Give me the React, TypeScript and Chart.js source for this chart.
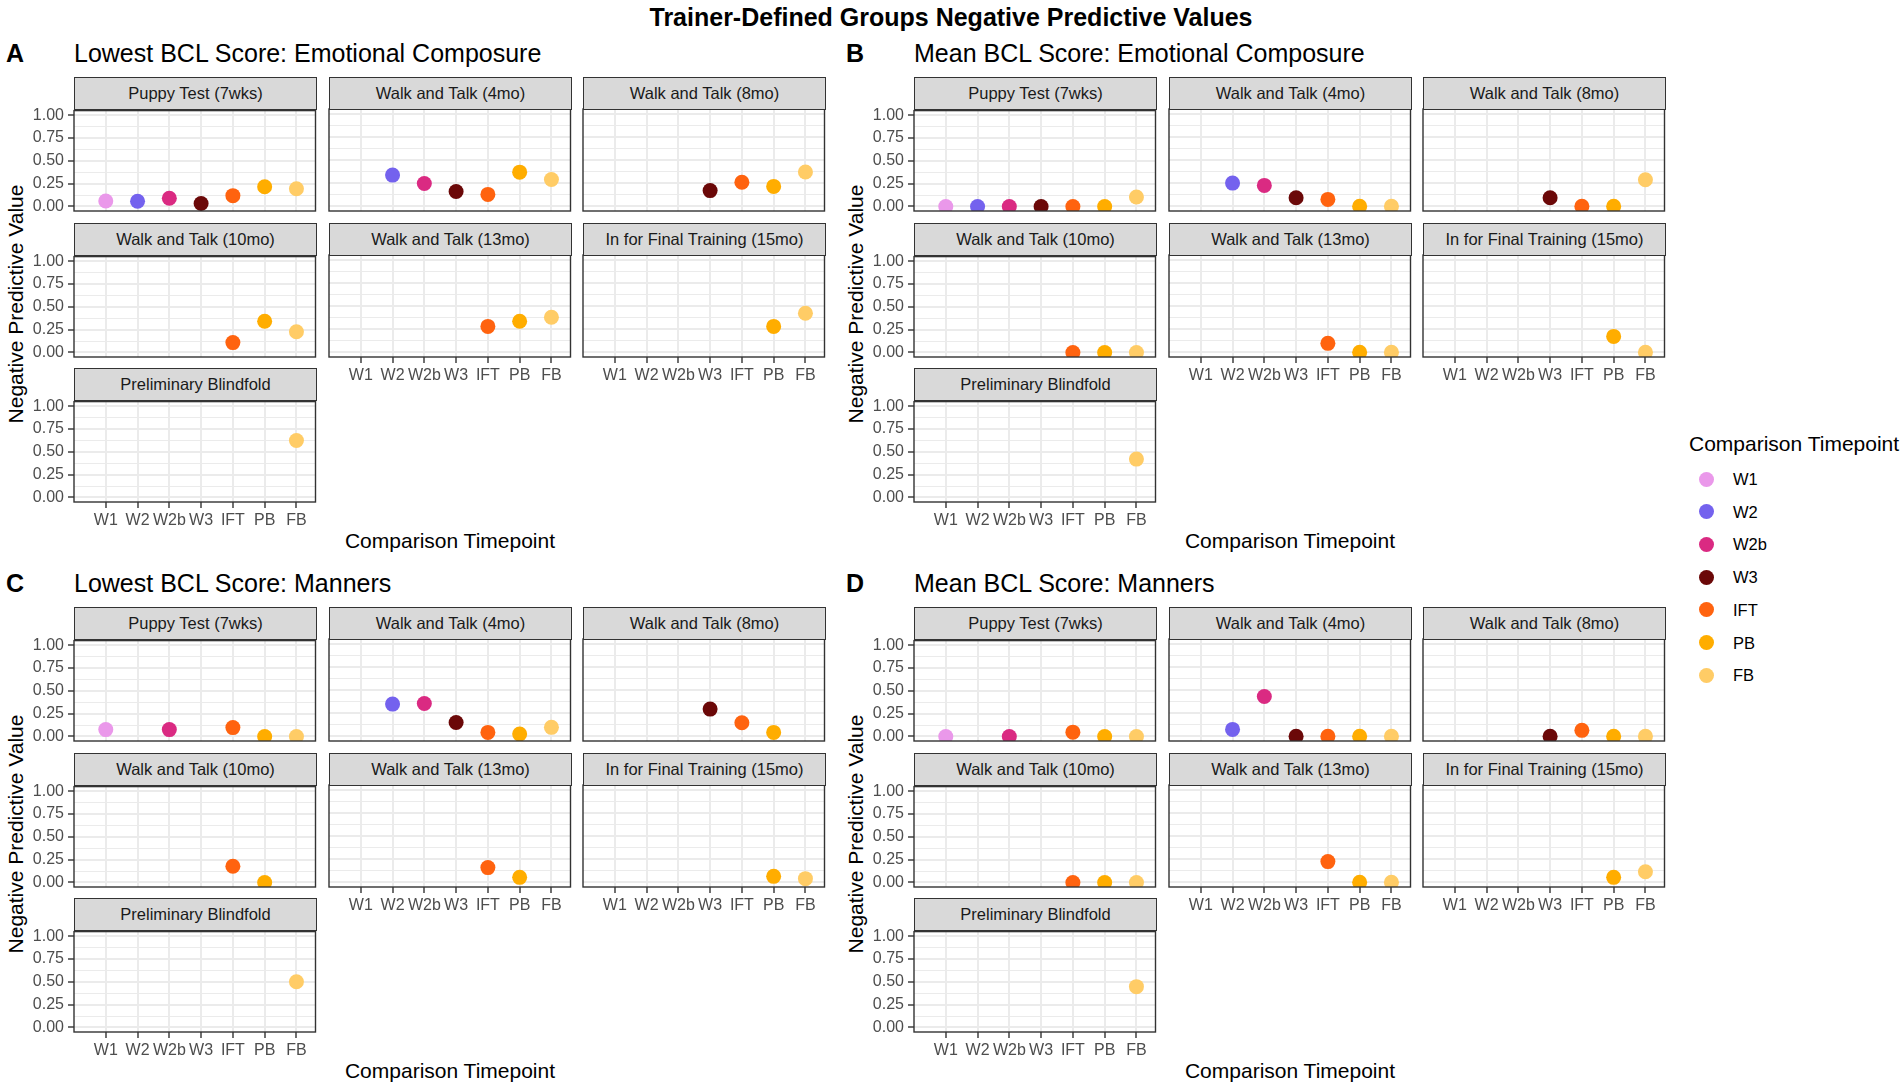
import React, { useEffect, useRef } from 'react';
import { Chart, registerables } from 'chart.js';

Chart.register(...registerables);

const FONT = '"Liberation Sans", Arial, Helvetica, sans-serif';

const categories = ['W1', 'W2', 'W2b', 'W3', 'IFT', 'PB', 'FB'];
const seriesColors = ['#EA98EA', '#7462EE', '#DA2A82', '#6B0808', '#FF630F', '#FFAD00', '#FFCC66'];
const facetNames = [
  'Puppy Test (7wks)',
  'Walk and Talk (4mo)',
  'Walk and Talk (8mo)',
  'Walk and Talk (10mo)',
  'Walk and Talk (13mo)',
  'In for Final Training (15mo)',
  'Preliminary Blindfold',
];
const yMajorTicks = [0, 0.25, 0.5, 0.75, 1];
const yMajorLabels = ['0.00', '0.25', '0.50', '0.75', '1.00'];
const yMinorTicks = [0.125, 0.375, 0.625, 0.875];

const N = null;
// rows = facets (same order as facetNames), columns = categories
const lowestEmotional = [
  [0.06, 0.057, 0.09, 0.032, 0.118, 0.215, 0.194],
  [N, 0.337, 0.247, 0.161, 0.129, 0.369, 0.29],
  [N, N, N, 0.17, 0.26, 0.215, 0.37],
  [N, N, N, N, 0.108, 0.342, 0.227],
  [N, N, N, N, 0.28, 0.336, 0.379],
  [N, N, N, N, N, 0.28, 0.422],
  [N, N, N, N, N, N, 0.624],
];
const meanEmotional = [
  [0, 0, 0, 0, 0, 0, 0.104],
  [N, 0.251, 0.226, 0.093, 0.075, 0, 0],
  [N, N, N, 0.093, 0, 0, 0.287],
  [N, N, N, N, 0, 0, 0],
  [N, N, N, N, 0.097, 0, 0],
  [N, N, N, N, N, 0.172, 0],
  [N, N, N, N, N, N, 0.42],
];
const lowestManners = [
  [0.075, N, 0.075, N, 0.097, 0, 0],
  [N, 0.348, 0.355, 0.15, 0.043, 0.025, 0.097],
  [N, N, N, 0.294, 0.147, 0.043, N],
  [N, N, N, N, 0.177, 0, N],
  [N, N, N, N, 0.159, 0.054, N],
  [N, N, N, N, N, 0.065, 0.04],
  [N, N, N, N, N, N, 0.5],
];
const meanManners = [
  [0, N, 0, N, 0.047, 0, 0],
  [N, 0.075, 0.43, 0, 0, 0, 0],
  [N, N, N, 0, 0.065, 0, 0],
  [N, N, N, N, 0, 0, 0],
  [N, N, N, N, 0.224, 0, 0],
  [N, N, N, N, N, 0.054, 0.115],
  [N, N, N, N, N, N, 0.447],
];

const panelTitles = [
  'Lowest BCL Score: Emotional Composure',
  'Mean BCL Score: Emotional Composure',
  'Lowest BCL Score: Manners',
  'Mean BCL Score: Manners',
];
const panelLetters = ['A', 'B', 'C', 'D'];
const panelData = [lowestEmotional, meanEmotional, lowestManners, meanManners];

// layout (px)
const PANEL_OFFSETS = [
  [0, 0],
  [840, 0],
  [0, 530],
  [840, 530],
];
const COL_LEFT = [74, 329, 583];
const ROW_TOP = [109, 255, 400];
const PLOT_W = 243;
const PLOT_H = 102;
const STRIP_H = 32;
const AX_W = 70;
const AX_H = 36;
const PAD_T = 12;
const PAD_R = 6;

const borderPlugin = {
  id: 'panelBorder',
  afterDraw(chart: any) {
    const { ctx, chartArea } = chart;
    ctx.save();
    ctx.strokeStyle = '#333333';
    ctx.lineWidth = 1.4;
    ctx.strokeRect(chartArea.left, chartArea.top, chartArea.right - chartArea.left, chartArea.bottom - chartArea.top);
    ctx.restore();
  },
};

function Facet({ values, left, top, showX, showY }: { values: (number | null)[]; left: number; top: number; showX: boolean; showY: boolean }) {
  const ref = useRef<HTMLCanvasElement>(null);
  useEffect(() => {
    const canvas = ref.current;
    if (!canvas) return;
    const datasets = categories.map((c, i) => ({
      label: c,
      data: values[i] == null ? [] : [{ x: i, y: values[i] as number }],
      backgroundColor: seriesColors[i],
      borderWidth: 0,
      pointRadius: 7.5,
      pointHoverRadius: 7.5,
      clip: 0,
    }));
    const isMajor = (v: number) => yMajorTicks.indexOf(v) >= 0;
    const chart = new Chart(canvas, {
      type: 'scatter',
      data: { datasets },
      options: {
        animation: false,
        responsive: false,
        maintainAspectRatio: false,
        events: [],
        layout: { padding: { top: PAD_T, right: PAD_R, left: 0, bottom: 0 } },
        plugins: { legend: { display: false }, tooltip: { enabled: false } },
        scales: {
          x: {
            type: 'linear',
            min: -1,
            max: 6.6,
            afterFit: (s: any) => {
              s.height = AX_H;
            },
            afterBuildTicks: (s: any) => {
              s.ticks = categories.map((_, i) => ({ value: i }));
            },
            ticks: {
              display: showX,
              autoSkip: false,
              maxRotation: 0,
              minRotation: 0,
              padding: 3,
              color: '#4D4D4D',
              font: { family: FONT, size: 16 },
              callback: (v: any) => categories[v] ?? '',
            },
            grid: {
              color: '#EBEBEB',
              lineWidth: 2,
              drawTicks: showX,
              tickLength: 6,
              tickColor: '#333333',
              tickWidth: 1.4,
            },
            border: { display: false },
          },
          y: {
            type: 'linear',
            min: -0.05,
            max: 1.05,
            afterFit: (s: any) => {
              s.width = AX_W;
            },
            afterBuildTicks: (s: any) => {
              s.ticks = [...yMajorTicks, ...yMinorTicks].sort((a, b) => a - b).map((v) => ({ value: v }));
            },
            ticks: {
              display: showY,
              autoSkip: false,
              padding: 4,
              color: '#4D4D4D',
              font: { family: FONT, size: 16 },
              callback: (v: any) => {
                const k = yMajorTicks.indexOf(v);
                return k >= 0 ? yMajorLabels[k] : '';
              },
            },
            grid: {
              color: '#EBEBEB',
              lineWidth: (ctx: any) => (isMajor(ctx.tick.value) ? 2 : 1),
              drawTicks: showY,
              tickLength: 6,
              tickColor: (ctx: any) => (isMajor(ctx.tick.value) ? '#333333' : 'rgba(0,0,0,0)'),
              tickWidth: 1.4,
            },
            border: { display: false },
          },
        },
      } as any,
      plugins: [borderPlugin],
    });
    return () => chart.destroy();
  }, [values, showX, showY]);
  const w = AX_W + PLOT_W + PAD_R;
  const h = PAD_T + PLOT_H + AX_H;
  return (
    <canvas
      ref={ref}
      width={w}
      height={h}
      style={{ position: 'absolute', left: left - AX_W, top: top - PAD_T, width: w, height: h, display: 'block' }}
    />
  );
}

const textBase: React.CSSProperties = {
  position: 'absolute',
  whiteSpace: 'nowrap',
  lineHeight: 1,
  fontFamily: FONT,
};

function Panel({ index }: { index: number }) {
  const [ox, oy] = PANEL_OFFSETS[index];
  const data = panelData[index];
  const items: React.ReactNode[] = [];
  facetNames.forEach((name, f) => {
    const row = Math.floor(f / 3);
    const col = f % 3;
    const left = ox + COL_LEFT[col];
    const top = oy + ROW_TOP[row];
    const showY = col === 0;
    const showX = f === 6 || f === 4 || f === 5;
    items.push(<Facet key={'c' + f} values={data[f]} left={left} top={top} showX={showX} showY={showY} />);
    items.push(
      <div
        key={'s' + f}
        style={{
          position: 'absolute',
          left,
          top: top - STRIP_H,
          width: PLOT_W,
          height: STRIP_H + 0.7,
          boxSizing: 'border-box',
          background: '#D9D9D9',
          border: '1.4px solid #333333',
          display: 'flex',
          alignItems: 'center',
          justifyContent: 'center',
          fontFamily: FONT,
          fontSize: 16.5,
          color: '#1A1A1A',
          whiteSpace: 'nowrap',
        }}
      >
        {name}
      </div>
    );
  });
  return (
    <>
      <div style={{ ...textBase, left: ox + 6, top: oy + 53, transform: 'translateY(-50%)', fontSize: 25, fontWeight: 'bold', color: '#000' }}>
        {panelLetters[index]}
      </div>
      <div style={{ ...textBase, left: ox + 74, top: oy + 53, transform: 'translateY(-50%)', fontSize: 25, color: '#000' }}>
        {panelTitles[index]}
      </div>
      <div
        style={{
          ...textBase,
          left: ox + 15,
          top: oy + 304,
          transform: 'translate(-50%, -50%) rotate(-90deg)',
          fontSize: 21,
          color: '#000',
        }}
      >
        Negative Predictive Value
      </div>
      <div style={{ ...textBase, left: ox + 450, top: oy + 540, transform: 'translate(-50%, -50%)', fontSize: 21, color: '#000' }}>
        Comparison Timepoint
      </div>
      {items}
    </>
  );
}

export default function App() {
  return (
    <div style={{ position: 'absolute', left: 0, top: 0, width: 1902, height: 1087, background: '#fff', overflow: 'hidden' }}>
      <div
        style={{
          ...textBase,
          left: 951,
          top: 17,
          transform: 'translate(-50%, -50%)',
          fontSize: 25,
          fontWeight: 'bold',
          color: '#000',
        }}
      >
        Trainer-Defined Groups Negative Predictive Values
      </div>
      {[0, 1, 2, 3].map((i) => (
        <Panel key={i} index={i} />
      ))}
      <div style={{ ...textBase, left: 1689, top: 443, transform: 'translateY(-50%)', fontSize: 21, color: '#000' }}>
        Comparison Timepoint
      </div>
      {categories.map((c, i) => (
        <React.Fragment key={c}>
          <div
            style={{
              position: 'absolute',
              left: 1706 - 7.5,
              top: 479 + 32.7 * i - 7.5,
              width: 15,
              height: 15,
              borderRadius: '50%',
              background: seriesColors[i],
            }}
          />
          <div style={{ ...textBase, left: 1733, top: 479 + 32.7 * i, transform: 'translateY(-50%)', fontSize: 16.5, color: '#000' }}>
            {c}
          </div>
        </React.Fragment>
      ))}
    </div>
  );
}
